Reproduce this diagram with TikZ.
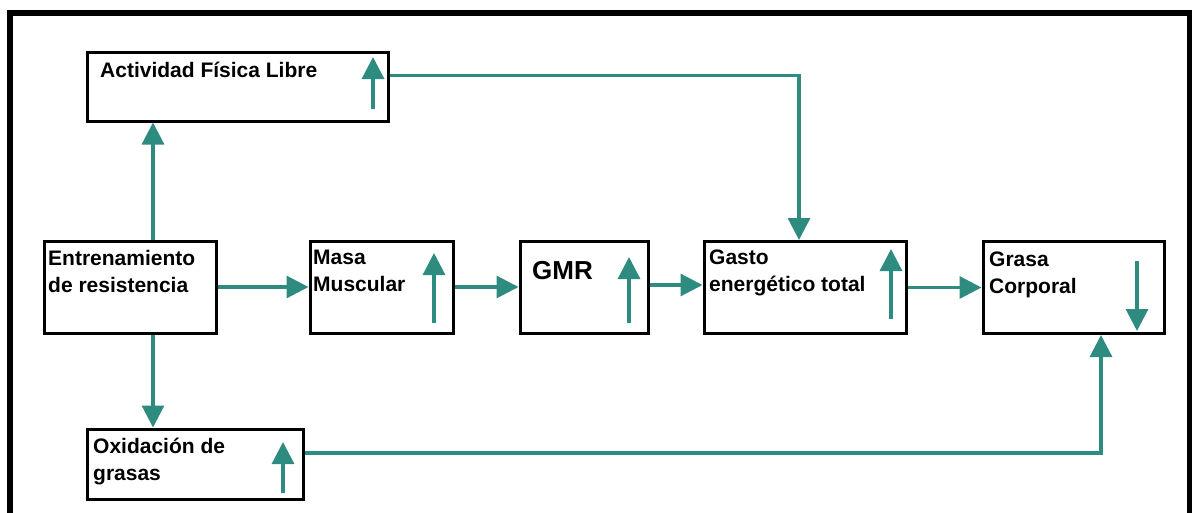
\documentclass[tikz,border=0pt]{standalone}
\usepackage{fontspec}
\setmainfont{Liberation Sans}
\usepackage{tikz}
\usetikzlibrary{arrows.meta,positioning,calc}
\definecolor{flecha}{RGB}{46,139,128}

\begin{document}
\begin{tikzpicture}[
  x=1pt, y=-1pt,
  box/.style={draw=black, line width=3pt, fill=white, inner sep=0pt,
    minimum height=92pt},
  lbl/.style={font=\fontsize{21}{26.5}\selectfont\bfseries, align=left,
    anchor=base west, inner sep=0pt},
  arr/.style={draw=flecha, line width=3.2pt,
    -{Triangle[length=22pt, width=22pt]}}
]
\useasboundingbox (0,0) rectangle (1192,512);
% marco exterior
\draw[line width=6pt] (9.5,530) -- (9.5,13) -- (1189.5,13) -- (1189.5,530);

\node[box, minimum width=301pt, minimum height=69pt] (afl) at (237.5,86.5) {};
\node[box, minimum width=172pt] (entr) at (130,287) {};
\node[box, minimum width=143pt] (masa) at (381.5,287) {};
\node[box, minimum width=128pt] (gmr) at (584,287) {};
\node[box, minimum width=202pt] (gasto) at (805,287.5) {};
\node[box, minimum width=181pt] (grasa) at (1073.5,287.5) {};
\node[box, minimum width=216pt, minimum height=70pt] (oxi) at (195,464) {};

% textos (base de la ultima linea)
\node[lbl] (afl-t) at (100,77) {Actividad Física Libre};
\node[lbl] (entr-t) at (48,292) {Entrenamiento\\de resistencia};
\node[lbl] (masa-t) at (313,291) {Masa\\Muscular};
\node[lbl, font=\fontsize{26}{30}\selectfont\bfseries] (gmr-t) at (532,279) {GMR};
\node[lbl] (gasto-t) at (709,291) {Gasto\\energético total};
\node[lbl] (grasa-t) at (989,293) {Grasa\\Corporal};
\node[lbl] (oxi-t) at (93,480) {Oxidación de\\grasas};

% flechas dentro de las cajas
\draw[arr] (373,109) -- (373,57);
\draw[arr] (434,323) -- (434,253);
\draw[arr] (629,323) -- (629,257);
\draw[arr] (891,319) -- (891,249);
\draw[arr] (1137,261) -- (1137,331);
\draw[arr] (283,493) -- (283,442);

% conexiones
\draw[arr] ([xshift=23pt]entr.north) -- ([xshift=23pt]entr.north |- afl.south);
\draw[arr] ([xshift=23pt]entr.south) -- ([xshift=23pt]entr.south |- oxi.north);
\draw[arr] (entr.east) -- (masa.west);
\draw[arr] (masa.east) -- (gmr.west);
\draw[arr] ([yshift=2pt]gmr.east) -- ([yshift=2pt]gmr.east -| gasto.west);
\draw[arr] (gasto.east) -- (gasto.east -| grasa.west);
\draw[arr] ([yshift=11pt]afl.east) -| ([xshift=-6pt]gasto.north);
\draw[arr] ([yshift=11pt]oxi.east) -| ([xshift=27.5pt]grasa.south);
\end{tikzpicture}
\end{document}
